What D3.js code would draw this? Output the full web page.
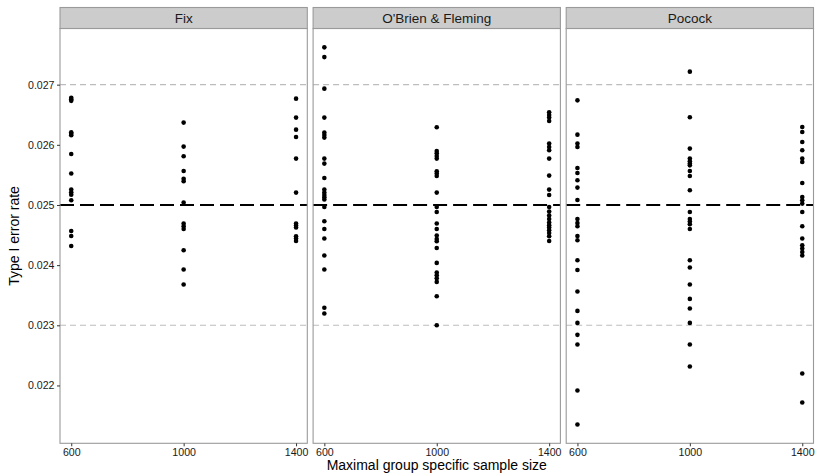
<!DOCTYPE html>
<html>
<head>
<meta charset="utf-8">
<script src="https://cdn.jsdelivr.net/npm/d3@7"></script>
<style>
  html, body { margin: 0; padding: 0; background: #ffffff; }
  svg { display: block; }
  text { font-family: "Liberation Sans", Arial, Helvetica, sans-serif; }
</style>
</head>
<body>
<svg id="chart" width="817" height="474"></svg>
<script>
// ---- data ----
const designs = ["Fix", "O'Brien & Fleming", "Pocock"];
const sampleSizes = [600, 1000, 1400];
const yTicks = [0.022, 0.023, 0.024, 0.025, 0.026, 0.027];
const xTicks = [600, 1000, 1400];
const nominalAlpha = 0.025;
const toleranceLines = [0.023, 0.027];

const fix600 = [0.026781, 0.026756, 0.026731, 0.026208, 0.026183, 0.026158, 0.025847, 0.025522,
  0.025256, 0.025211, 0.025169, 0.025078, 0.024568, 0.024485, 0.024319];
const fix1000 = [0.026369, 0.025970, 0.025809, 0.025565, 0.025435, 0.025394, 0.025040, 0.024691,
  0.024646, 0.024601, 0.024248, 0.023927, 0.023678];
const fix1400 = [0.026767, 0.026452, 0.026252, 0.026130, 0.025771, 0.025206, 0.024691, 0.024658,
  0.024625, 0.024480, 0.024442, 0.024402];

const obf600 = [0.027620, 0.027458, 0.026934, 0.026452, 0.026203, 0.026163, 0.026120, 0.025771,
  0.025688, 0.025449, 0.025256, 0.025206, 0.025166, 0.025128, 0.025090, 0.024967, 0.024729,
  0.024601, 0.024442, 0.024159, 0.023927, 0.023292, 0.023196];
const obf1000 = [0.026291, 0.025897, 0.025859, 0.025814, 0.025771, 0.025560, 0.025522, 0.025482,
  0.025206, 0.024967, 0.024884, 0.024691, 0.024601, 0.024492, 0.024435, 0.024397, 0.024286,
  0.024037, 0.023877, 0.023832, 0.023782, 0.023721, 0.023483, 0.023002];
const obf1400 = [0.026540, 0.026495, 0.026452, 0.026395, 0.026020, 0.025963, 0.025909, 0.025771,
  0.025488, 0.025256, 0.025166, 0.024967, 0.024890, 0.024824, 0.024767, 0.024708, 0.024663,
  0.024625, 0.024580, 0.024535, 0.024480, 0.024402];

const pocock600 = [0.026739, 0.026169, 0.026020, 0.025963, 0.025615, 0.025532, 0.025410, 0.025289,
  0.025083, 0.024767, 0.024701, 0.024646, 0.024485, 0.024414, 0.024081, 0.023920, 0.023561,
  0.023239, 0.023040, 0.022841, 0.022681, 0.021917, 0.021352];
const pocock1000 = [0.027216, 0.026457, 0.025937, 0.025771, 0.025726, 0.025688, 0.025659, 0.025565,
  0.025482, 0.025244, 0.024884, 0.024767, 0.024724, 0.024679, 0.024601, 0.024081, 0.023960,
  0.023678, 0.023439, 0.023279, 0.023040, 0.022681, 0.022316];
const pocock1400 = [0.026296, 0.026213, 0.026047, 0.025909, 0.025771, 0.025714, 0.025365, 0.025133,
  0.025078, 0.025023, 0.024884, 0.024646, 0.024442, 0.024331, 0.024276, 0.024219, 0.024159,
  0.022199, 0.021718];

const seriesByDesign = [
  [fix600, fix1000, fix1400],
  [obf600, obf1000, obf1400],
  [pocock600, pocock1000, pocock1400]
];

// tidy rows built from the arrays
const rows = [];
designs.forEach((d, di) => {
  sampleSizes.forEach((n, ni) => {
    seriesByDesign[di][ni].forEach(v => rows.push({ design: d, n: n, rate: v }));
  });
});

// ---- layout ----
const svg = d3.select("#chart");
const plotLeft = 60, plotRight = 813.5, panelGap = 5.8;
const stripTop = 7.5, stripBottom = 28.5, panelBottom = 443.3;
const panelW = (plotRight - plotLeft - 2 * panelGap) / designs.length;

const fontMain = "'Liberation Sans', Arial, Helvetica, sans-serif";

// y scale (ggplot-style 5% expansion)
const yExt = d3.extent(rows, r => r.rate);
const yPad = (yExt[1] - yExt[0]) * 0.05;
const y = d3.scaleLinear().domain([yExt[0] - yPad, yExt[1] + yPad]).range([panelBottom, stripBottom]);

const xExtRaw = d3.extent(sampleSizes);
const xPad = (xExtRaw[1] - xExtRaw[0]) * 0.05;

designs.forEach((d, di) => {
  const x0 = plotLeft + di * (panelW + panelGap);
  const x = d3.scaleLinear().domain([xExtRaw[0] - xPad, xExtRaw[1] + xPad]).range([x0, x0 + panelW]);
  const g = svg.append("g");

  // panel background
  g.append("rect").attr("x", x0).attr("y", stripBottom).attr("width", panelW)
    .attr("height", panelBottom - stripBottom).attr("fill", "#ffffff");

  // tolerance lines
  toleranceLines.forEach(v => {
    g.append("line").attr("x1", x0).attr("x2", x0 + panelW)
      .attr("y1", y(v)).attr("y2", y(v))
      .attr("stroke", "#bdbdbd").attr("stroke-width", 1.1)
      .attr("stroke-dasharray", "6,4");
  });
  // nominal level
  g.append("line").attr("x1", x0).attr("x2", x0 + panelW)
    .attr("y1", y(nominalAlpha)).attr("y2", y(nominalAlpha))
    .attr("stroke", "#000000").attr("stroke-width", 2)
    .attr("stroke-dasharray", "14,6");

  // points
  g.selectAll("circle.pt").data(rows.filter(r => r.design === d)).enter()
    .append("circle").attr("class", "pt")
    .attr("cx", r => x(r.n)).attr("cy", r => y(r.rate)).attr("r", 2.3)
    .attr("fill", "#000000");

  // panel border
  g.append("rect").attr("x", x0).attr("y", stripBottom).attr("width", panelW)
    .attr("height", panelBottom - stripBottom)
    .attr("fill", "none").attr("stroke", "#9a9a9a").attr("stroke-width", 1.1);

  // strip
  g.append("rect").attr("x", x0).attr("y", stripTop).attr("width", panelW)
    .attr("height", stripBottom - stripTop)
    .attr("fill", "#cccccc").attr("stroke", "#9a9a9a").attr("stroke-width", 1.1);
  g.append("text").attr("x", x0 + panelW / 2).attr("y", stripBottom - 5.3)
    .attr("text-anchor", "middle").attr("font-size", "13.5px").attr("fill", "#1a1a1a")
    .text(d);

  // x axis
  const xAxis = d3.axisBottom(x).tickValues(xTicks).tickSize(3).tickPadding(2.5)
    .tickFormat(d3.format("d"));
  const ax = g.append("g").attr("transform", `translate(0,${panelBottom})`).call(xAxis);
  ax.select(".domain").remove();
  ax.selectAll(".tick line").attr("stroke", "#333333").attr("stroke-width", 1);
  ax.selectAll(".tick text").attr("font-family", fontMain).attr("font-size", "10.6px")
    .attr("fill", "#1a1a1a");

  // y axis on first panel only
  if (di === 0) {
    const yAxis = d3.axisLeft(y).tickValues(yTicks).tickSize(3).tickPadding(2.5)
      .tickFormat(d3.format(".3f"));
    const ay = g.append("g").attr("transform", `translate(${x0},0)`).call(yAxis);
    ay.select(".domain").remove();
    ay.selectAll(".tick line").attr("stroke", "#333333").attr("stroke-width", 1);
    ay.selectAll(".tick text").attr("font-family", fontMain).attr("font-size", "10.6px")
      .attr("fill", "#1a1a1a");
  }
});

// axis titles
svg.append("text").attr("x", (plotLeft + plotRight) / 2).attr("y", 470)
  .attr("text-anchor", "middle").attr("font-size", "14px").attr("fill", "#000000")
  .text("Maximal group specific sample size");
svg.append("text")
  .attr("transform", `translate(19,${(stripBottom + panelBottom) / 2}) rotate(-90)`)
  .attr("text-anchor", "middle").attr("font-size", "14px").attr("fill", "#000000")
  .text("Type I error rate");
</script>
</body>
</html>
